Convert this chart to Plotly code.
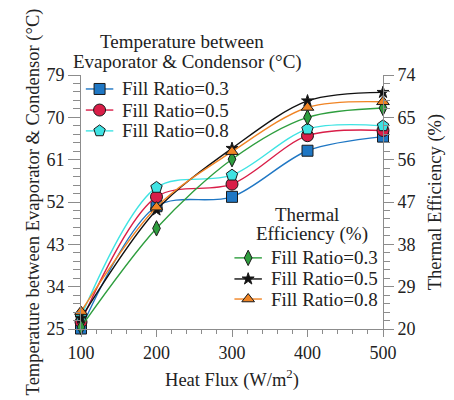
import plotly.graph_objects as go

# Heat flux levels (W/m^2)
heat_flux = [100, 200, 300, 400, 500]

# Temperature difference between evaporator and condensor (°C)
temp_fr03 = [25.1, 51.1, 53.1, 62.9, 65.9]
temp_fr05 = [26.5, 53.1, 55.8, 66.1, 67.2]
temp_fr08 = [27.6, 55.1, 57.7, 67.5, 68.2]

# Thermal efficiency (%)
eff_fr03 = [20.4, 41.4, 56.1, 65.0, 67.0]
eff_fr05 = [22.3, 45.3, 58.4, 68.5, 70.3]
eff_fr08 = [23.7, 45.9, 57.7, 67.1, 68.3]

fill_labels = ["Fill Ratio=0.3", "Fill Ratio=0.5", "Fill Ratio=0.8"]

temp_ticks = [25, 34, 43, 52, 61, 70, 79]
eff_ticks = [20, 29, 38, 47, 56, 65, 74]

SERIF = "'Liberation Serif', 'Times New Roman', Times, serif"
TXT = "#222222"
AX = "#8c8c8c"
EDGE = "#1a1a1a"

temp_styles = [
    dict(color="#1f77c4", symbol="square", size=11),
    dict(color="#d91e48", symbol="circle", size=12),
    dict(color="#3fe3e3", symbol="pentagon", size=12),
]
eff_styles = [
    dict(color="#2e9e3e", symbol="diamond-tall", size=11),
    dict(color="#111111", symbol="star", size=9),
    dict(color="#f08424", symbol="triangle-up", size=11),
]

fig = go.Figure()

for vals, st in zip([temp_fr03, temp_fr05, temp_fr08], temp_styles):
    fig.add_trace(go.Scatter(
        x=heat_flux, y=vals, mode="lines+markers", yaxis="y",
        line=dict(color=st["color"], width=1.4, shape="spline", smoothing=0.9),
        marker=dict(color=st["color"], symbol=st["symbol"], size=st["size"],
                    line=dict(color=EDGE, width=1)),
        cliponaxis=False, showlegend=False,
    ))

for vals, st in zip([eff_fr03, eff_fr05, eff_fr08], eff_styles):
    fig.add_trace(go.Scatter(
        x=heat_flux, y=vals, mode="lines+markers", yaxis="y2",
        line=dict(color=st["color"], width=1.4, shape="spline", smoothing=0.9),
        marker=dict(color=st["color"], symbol=st["symbol"], size=st["size"],
                    line=dict(color=EDGE, width=1)),
        cliponaxis=False, showlegend=False,
    ))

# Hand-built legends on a unit overlay axis (fractions of the plot area)
def legend_block(styles, x0, x1, text_x, rows):
    anns = []
    for st, label, ry in zip(styles, fill_labels, rows):
        fig.add_trace(go.Scatter(
            x=[x0, x1], y=[ry, ry], mode="lines", xaxis="x3", yaxis="y3",
            line=dict(color=st["color"], width=1.4), showlegend=False,
            hoverinfo="skip",
        ))
        fig.add_trace(go.Scatter(
            x=[(x0 + x1) / 2], y=[ry], mode="markers", xaxis="x3", yaxis="y3",
            marker=dict(color=st["color"], symbol=st["symbol"], size=st["size"],
                        line=dict(color=EDGE, width=1)),
            cliponaxis=False, showlegend=False, hoverinfo="skip",
        ))
        anns.append(dict(x=text_x, y=ry, xref="x3", yref="y3", text=label,
                         showarrow=False, xanchor="left", yanchor="middle",
                         font=dict(family=SERIF, size=19, color=TXT)))
    return anns

annotations = []
annotations += legend_block(temp_styles, 0.016, 0.107, 0.128, [0.945, 0.862, 0.780])
annotations += legend_block(eff_styles, 0.508, 0.599, 0.622, [0.280, 0.197, 0.118])

title_font = dict(family=SERIF, size=19, color=TXT)
axis_title_font = dict(family=SERIF, size=18.5, color=TXT)
annotations += [
    dict(x=0.335, y=1.130, xref="paper", yref="paper", text="Temperature between",
         showarrow=False, xanchor="center", yanchor="middle", font=title_font),
    dict(x=0.352, y=1.051, xref="paper", yref="paper", text="Evaporator & Condensor (°C)",
         showarrow=False, xanchor="center", yanchor="middle", font=title_font),
    dict(x=0.749, y=0.449, xref="paper", yref="paper", text="Thermal",
         showarrow=False, xanchor="center", yanchor="middle", font=title_font),
    dict(x=0.765, y=0.374, xref="paper", yref="paper", text="Efficiency (%)",
         showarrow=False, xanchor="center", yanchor="middle", font=title_font),
]

tick_font = dict(family=SERIF, size=18, color=TXT)
axis_common = dict(
    showline=True, linecolor=AX, linewidth=1, ticks="outside", tickcolor=AX,
    tickwidth=1, showgrid=False, zeroline=False, tickfont=tick_font,
)

fig.update_layout(
    width=454, height=400,
    margin=dict(l=81, r=66, t=75, b=71),
    paper_bgcolor="white", plot_bgcolor="white",
    showlegend=False,
    xaxis=dict(
        range=[100, 500], tickvals=heat_flux, ticklen=7,
        minor=dict(dtick=20, tick0=100, ticklen=4, tickcolor=AX, ticks="outside"),
        title=dict(text="Heat Flux (W/m<sup>2</sup>)", font=axis_title_font, standoff=11),
        **axis_common,
    ),
    yaxis=dict(
        range=[25, 79], tickvals=temp_ticks, ticklen=12,
        minor=dict(dtick=1.8, tick0=25, ticklen=7, tickcolor=AX, ticks="outside"),
        title=dict(text="Temperature between Evaporator & Condensor (°C)",
                   font=axis_title_font, standoff=1),
        **axis_common,
    ),
    yaxis2=dict(
        range=[20, 74], tickvals=eff_ticks, ticklen=10, overlaying="y", side="right",
        minor=dict(dtick=1.8, tick0=20, ticklen=6, tickcolor=AX, ticks="outside"),
        title=dict(text="Thermal Efficiency (%)", font=axis_title_font, standoff=13),
        **axis_common,
    ),
    xaxis3=dict(range=[0, 1], overlaying="x", visible=False, fixedrange=True),
    yaxis3=dict(range=[0, 1], overlaying="y", visible=False, fixedrange=True),
    annotations=annotations,
)

fig.write_html("out.html")
